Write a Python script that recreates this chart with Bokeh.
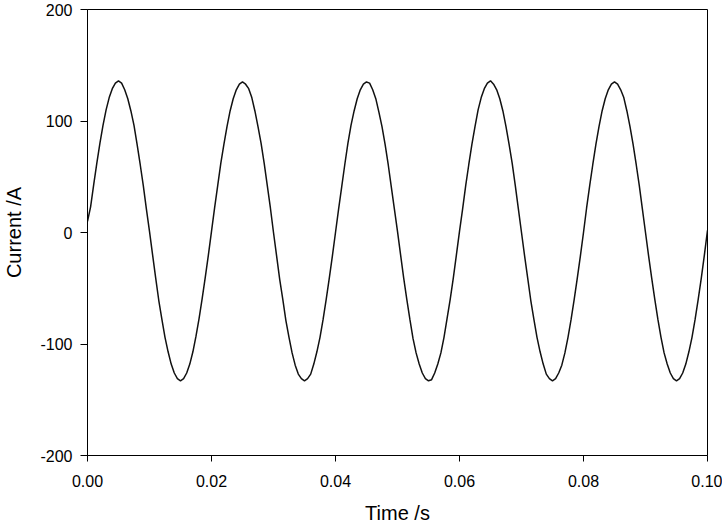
import numpy as np
from bokeh.plotting import figure
from bokeh.models import Range1d, FixedTicker
from bokeh.embed import file_html
from bokeh.resources import INLINE

# Sampling step 0.5 ms, 0 .. 0.1 s
time_s = np.round(np.arange(201) * 0.0005, 4)

current_a = [
    # cycle 1
    10, 23, 43, 62, 80, 96, 110, 121, 129, 134, 136, 134, 128, 120, 109, 96, 79, 61, 42, 21,
    1, -20, -41, -61, -78, -94, -107, -118, -126, -131, -133, -131, -126, -118, -107, -93, -77, -59, -40, -20,
    # cycle 2
    1, 22, 42, 62, 79, 95, 109, 120, 128, 133, 135, 133, 129, 121, 109, 95, 80, 62, 42, 22,
    0, -21, -42, -60, -79, -94, -108, -119, -127, -131, -133, -131, -127, -118, -107, -94, -78, -60, -41, -21,
    # cycle 3
    0, 21, 41, 61, 80, 96, 109, 120, 128, 133, 135, 134, 128, 120, 108, 95, 79, 61, 41, 21,
    1, -20, -41, -60, -78, -95, -108, -118, -126, -131, -133, -132, -126, -118, -108, -94, -77, -60, -41, -20,
    # cycle 4
    1, 21, 42, 61, 79, 95, 110, 121, 129, 134, 136, 133, 128, 120, 109, 95, 79, 62, 42, 21,
    0, -21, -41, -61, -78, -94, -107, -118, -127, -131, -133, -131, -126, -119, -108, -94, -78, -60, -41, -21,
    # cycle 5
    0, 22, 42, 61, 79, 95, 109, 120, 128, 133, 135, 133, 128, 121, 109, 95, 79, 61, 42, 21,
    0, -21, -41, -60, -78, -94, -108, -118, -126, -131, -133, -131, -126, -118, -107, -94, -78, -60, -41, -20,
    2,
]

x_ticks = [0.0, 0.02, 0.04, 0.06, 0.08, 0.10]
x_tick_labels = ["0.00", "0.02", "0.04", "0.06", "0.08", "0.10"]
y_ticks = [-200, -100, 0, 100, 200]
y_tick_labels = ["-200", "-100", "0", "100", "200"]

FONT = "Liberation Sans"

p = figure(width=722, height=527, output_backend="svg", toolbar_location=None,
           x_range=Range1d(0, 0.1), y_range=Range1d(-200, 200),
           min_border_left=87, min_border_right=15, min_border_top=9, min_border_bottom=72)

p.line(time_s, current_a, line_color="#111111", line_width=1.5)

p.xgrid.visible = False
p.ygrid.visible = False
p.outline_line_color = "black"
p.outline_line_width = 1
p.background_fill_color = "white"
p.border_fill_color = "white"

xa = p.xaxis[0]
xa.ticker = FixedTicker(ticks=x_ticks)
xa.major_label_overrides = {t: l for t, l in zip(x_ticks, x_tick_labels)}
xa.axis_label = "Time /s"

ya = p.yaxis[0]
ya.ticker = FixedTicker(ticks=y_ticks)
ya.major_label_overrides = {t: l for t, l in zip(y_ticks, y_tick_labels)}
ya.axis_label = "Current /A"

for ax in (xa, ya):
    ax.axis_line_color = "black"
    ax.major_tick_line_color = "black"
    ax.minor_tick_line_color = None
    ax.major_tick_in = 0
    ax.major_label_text_font = FONT
    ax.major_label_text_font_size = "16px"
    ax.major_label_text_color = "black"
    ax.axis_label_text_font = FONT
    ax.axis_label_text_font_size = "20px"
    ax.axis_label_text_font_style = "normal"
    ax.axis_label_text_color = "black"

xa.major_tick_out = 6
ya.major_tick_out = 7
xa.major_label_standoff = 13
ya.major_label_standoff = 8
xa.axis_label_standoff = 12
ya.axis_label_standoff = 12

open("out.html", "w").write(file_html(p, INLINE))
